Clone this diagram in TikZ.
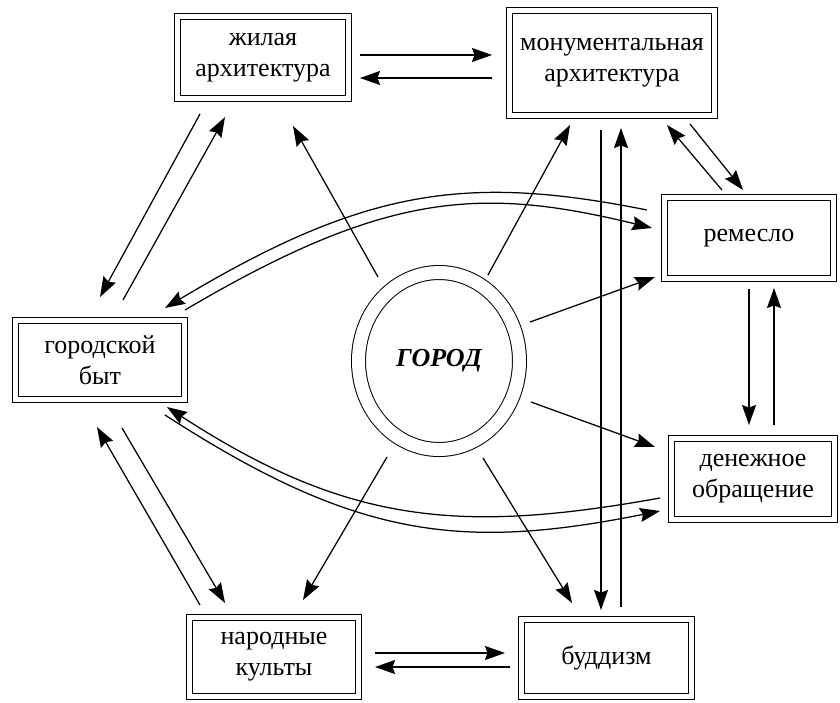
\documentclass[tikz,border=0pt]{standalone}
\usepackage{fontspec}
\setmainfont{Liberation Serif}
\usetikzlibrary{arrows.meta,shapes.geometric,calc}
\newcommand\boxfont{\fontsize{26}{31}\selectfont}
\begin{document}
\begin{tikzpicture}[x=1pt,y=-1pt,
  box/.style={draw, double, double distance=5.5pt, line width=0.9pt, inner sep=0pt, align=center, font=\boxfont},
  cityst/.style={ellipse, draw, double, double distance=13pt, line width=1pt, inner sep=0pt, font=\boxfont\bfseries\itshape},
  arr/.style={line width=1.25pt, -{Stealth[length=20pt,width=14pt,inset=2.5pt]}}]
\useasboundingbox (0,0) rectangle (840,702);
% nodes
\node[box, minimum width=170.7pt, minimum height=81.7pt] (zh) at (263,57.5) {жилая\\архитектура};
\node[box, minimum width=204.7pt, minimum height=104.7pt] (mon) at (612,63) {монументальная\\архитектура};
\node[box, minimum width=168.7pt, minimum height=80.7pt] (rem) at (749,238) {ремесло};
\node[box, minimum width=162.7pt, minimum height=80.7pt] (den) at (753,479) {денежное\\обращение};
\node[box, minimum width=169.7pt, minimum height=76.7pt] (bud) at (606.5,658) {буддизм};
\node[box, minimum width=168.7pt, minimum height=78.7pt] (nar) at (274,657) {народные\\культы};
\node[box, minimum width=168.7pt, minimum height=78.7pt] (byt) at (100,360) {городской\\быт};
\node[cityst, minimum width=161pt, minimum height=177pt] (city) at (439,361) {ГОРОД};
% straight connectors
\draw[arr] ([shift={(97,-2.5)}]zh.center) -- ([shift={(-120,-8)}]mon.center);
\draw[arr] ([shift={(-120,15)}]mon.center) -- ([shift={(97,20.5)}]zh.center);
\draw[arr] ([shift={(-63,56.5)}]zh.center) -- ([shift={(0,-63)}]byt.center);
\draw[arr] ([shift={(23,-60)}]byt.center) -- ([shift={(-38,59.5)}]zh.center);
\draw[arr] ([shift={(-61,-84)}]city.center) -- ([shift={(30,68.5)}]zh.center);
\draw[arr] ([shift={(49,-86)}]city.center) -- ([shift={(-42,62)}]mon.center);
\draw[arr] ([shift={(-11,67)}]mon.center) -- ([shift={(-5.5,-48)}]bud.center);
\draw[arr] ([shift={(14.5,-51)}]bud.center) -- ([shift={(9,65)}]mon.center);
\draw[arr] ([shift={(78,61)}]mon.center) -- ([shift={(-6,-48)}]rem.center);
\draw[arr] ([shift={(-27,-48)}]rem.center) -- ([shift={(55,62)}]mon.center);
\draw[arr] ([shift={(91,-39)}]city.center) -- ([shift={(-94,39)}]rem.center);
\draw[arr] ([shift={(0,51)}]rem.center) -- ([shift={(-4,-54)}]den.center);
\draw[arr] ([shift={(21,-54)}]den.center) -- ([shift={(25,50)}]rem.center);
\draw[arr] ([shift={(92,41)}]city.center) -- ([shift={(-98,-32)}]den.center);
\draw[arr] ([shift={(44,97)}]city.center) -- ([shift={(-34.5,-55)}]bud.center);
\draw[arr] ([shift={(-52,96)}]city.center) -- ([shift={(29,-57)}]nar.center);
\draw[arr] ([shift={(22,68)}]byt.center) -- ([shift={(-49,-54)}]nar.center);
\draw[arr] ([shift={(-74,-52)}]nar.center) -- ([shift={(-3,67)}]byt.center);
\draw[arr] ([shift={(101,-4)}]nar.center) -- ([shift={(-101.5,-5)}]bud.center);
\draw[arr] ([shift={(-96.5,9)}]bud.center) -- ([shift={(101,10)}]nar.center);
% curved connectors
\draw[arr] ([shift={(-102,-28)}]rem.center) .. controls (467,174) and (365,188) .. ([shift={(65,-52)}]byt.center);
\draw[arr] ([shift={(85,-50)}]byt.center) .. controls (385,192) and (480,186) .. ([shift={(-97,-10)}]rem.center);
\draw[arr] ([shift={(-93,19)}]den.center) .. controls (460,534) and (347,524) .. ([shift={(67,47)}]byt.center);
\draw[arr] ([shift={(65,55)}]byt.center) .. controls (355,538) and (460,551) .. ([shift={(-93,32)}]den.center);
\end{tikzpicture}
\end{document}
